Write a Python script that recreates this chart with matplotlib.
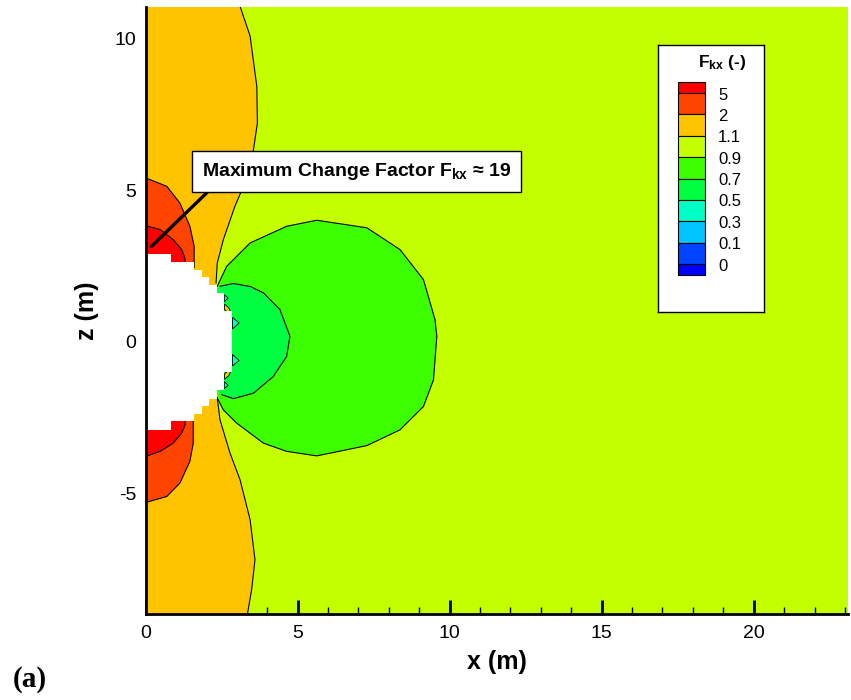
import matplotlib
matplotlib.use("Agg")
import matplotlib.pyplot as plt
from matplotlib.patches import Polygon, Rectangle
from matplotlib.ticker import MultipleLocator

plt.rcParams['font.family'] = ['Liberation Sans', 'DejaVu Sans']
plt.rcParams['mathtext.fontset'] = 'custom'
plt.rcParams['mathtext.rm'] = 'Liberation Sans'
plt.rcParams['mathtext.bf'] = 'Liberation Sans:bold'
plt.rcParams['mathtext.it'] = 'Liberation Sans:italic'
plt.rcParams['axes.unicode_minus'] = False

# domain (m)
x_range = [0.0, 23.1]
z_range = [-9.0, 11.05]

# contour levels and fill colours (legend, top to bottom)
level_labels = ['5', '2', '1.1', '0.9', '0.7', '0.5', '0.3', '0.1', '0']
level_colors = ['#FF0000', '#FF4400', '#FFC400', '#C4FF00', '#3CFF00',
                '#00FF40', '#00FFC4', '#00C4FF', '#0044FF', '#0000FF']

# contour F = 1.1 (orange / yellow-green)
c11_up_x = [3.11, 3.44, 3.66, 3.68, 3.55, 3.22, 2.94, 2.56, 2.36, 2.32]
c11_up_z = [11.07, 10.09, 8.43, 7.22, 6.34, 5.13, 4.47, 3.37, 2.60, 1.94]
c11_lo_x = [2.36, 2.45, 2.78, 3.11, 3.44, 3.60, 3.49, 3.35]
c11_lo_z = [-1.86, -2.58, -3.68, -4.56, -5.88, -7.20, -8.19, -9.00]

# contour F = 2
c2_up_x = [0.0, 0.70, 1.13, 1.46, 1.60, 1.60]
c2_up_z = [5.41, 5.13, 4.58, 3.81, 3.15, 2.45]
c2_lo_x = [1.57, 1.57, 1.46, 1.13, 0.70, 0.0]
c2_lo_z = [-2.45, -3.35, -3.95, -4.67, -5.11, -5.31]

# contour F = 5
c5_up_x = [0.0, 0.48, 0.91, 1.19, 1.30, 1.30]
c5_up_z = [3.83, 3.70, 3.37, 3.04, 2.75, 2.55]
c5_lo_x = [1.30, 1.30, 1.19, 0.91, 0.48, 0.0]
c5_lo_z = [-2.55, -2.75, -3.02, -3.35, -3.62, -3.79]

# contour F = 0.9 (outer green zone)
c09_x = [2.36, 2.67, 3.44, 4.64, 5.63, 7.28, 8.37, 9.14, 9.52, 9.58,
         9.47, 9.14, 8.37, 7.28, 5.63, 4.64, 3.88, 3.00, 2.56, 2.36]
c09_z = [1.83, 2.49, 3.26, 3.81, 4.01, 3.76, 3.04, 2.05, 0.73, 0.18,
         -1.26, -2.14, -2.91, -3.43, -3.77, -3.62, -3.35, -2.69, -2.25, -1.86]

# contour F = 0.7 (inner green zone)
c07_x = [2.45, 2.89, 3.45, 3.88, 4.42, 4.75, 4.64, 4.20, 3.55, 2.89, 2.51]
c07_z = [1.83, 1.92, 1.82, 1.61, 1.06, 0.18, -0.49, -1.15, -1.70, -1.88, -1.75]

# small F < 0.5 pockets at the excavation wall
pocket_x = [[2.86, 3.08, 2.86], [2.86, 3.08, 2.86],
            [2.59, 2.72, 2.59], [2.59, 2.72, 2.59]]
pocket_z = [[0.80, 0.62, 0.42], [-0.42, -0.62, -0.80],
            [1.55, 1.44, 1.32], [-1.32, -1.44, -1.55]]

# small F > 1.1 spots at the wall
spot_x = [[2.60, 2.74, 2.84, 2.70, 2.60], [2.60, 2.74, 2.84, 2.70, 2.60]]
spot_z = [[1.24, 1.12, 0.88, 0.98, 1.06], [-1.24, -1.12, -0.88, -0.98, -1.06]]

# excavation (no data)
hole_x = [0.0, 0.84, 0.84, 1.61, 1.61, 1.85, 1.85, 2.09, 2.09, 2.34, 2.34,
          2.59, 2.59, 2.86, 2.86, 2.59, 2.59, 2.34, 2.34, 2.09, 2.09, 1.85,
          1.85, 1.61, 1.61, 0.84, 0.84, 0.0]
hole_z = [2.90, 2.90, 2.63, 2.63, 2.38, 2.38, 2.12, 2.12, 1.88, 1.88, 1.61,
          1.61, 1.00, 1.00, -1.00, -1.00, -1.61, -1.61, -1.88, -1.88, -2.12,
          -2.12, -2.38, -2.38, -2.63, -2.63, -2.90, -2.90]

max_factor = 19
pointer_xy = (0.20, 3.15)

# point well inside the excavation used to close the fill polygons
inner = (1.0, 0.0)


def fill_region(ax, xs, zs, color, z=2):
    ax.add_patch(Polygon(list(zip(xs, zs)), closed=True, facecolor=color,
                         edgecolor='none', zorder=z))


def line(ax, xs, zs):
    ax.plot(xs, zs, color='black', lw=0.8, zorder=5)


fig = plt.figure(figsize=(8.51, 7.0), dpi=100)
ax = fig.add_axes([145.5 / 851, 1 - 614.3 / 700, 702.5 / 851, 607.3 / 700])
ax.set_facecolor(level_colors[3])

# orange zone 1.1 - 2
ox = [x_range[0]] + c11_up_x + [inner[0]] + c11_lo_x + [x_range[0]]
oz = [c11_up_z[0]] + c11_up_z + [inner[1]] + c11_lo_z + [c11_lo_z[-1]]
fill_region(ax, ox, oz, level_colors[2])

# 2 - 5 zones
fill_region(ax, c2_up_x + [0.0], c2_up_z + [c2_up_z[-1]], level_colors[1], 3)
fill_region(ax, [0.0] + c2_lo_x, [c2_lo_z[0]] + c2_lo_z, level_colors[1], 3)
# > 5 zones
fill_region(ax, c5_up_x + [0.0], c5_up_z + [c5_up_z[-1]], level_colors[0], 3)
fill_region(ax, [0.0] + c5_lo_x, [c5_lo_z[0]] + c5_lo_z, level_colors[0], 3)

# green zones
fill_region(ax, c09_x + [inner[0]], c09_z + [inner[1]], level_colors[4], 3)
fill_region(ax, c07_x + [inner[0]], c07_z + [inner[1]], level_colors[5], 3)

for px, pz in zip(pocket_x, pocket_z):
    ax.add_patch(Polygon(list(zip(px, pz)), closed=True,
                         facecolor=level_colors[6], edgecolor='black',
                         lw=0.6, zorder=4))
for sx, sz in zip(spot_x, spot_z):
    ax.add_patch(Polygon(list(zip(sx, sz)), closed=True,
                         facecolor=level_colors[2], edgecolor='black',
                         lw=0.6, zorder=4))

for xs, zs in [(c11_up_x, c11_up_z), (c11_lo_x, c11_lo_z),
               (c2_up_x, c2_up_z), (c2_lo_x, c2_lo_z),
               (c5_up_x, c5_up_z), (c5_lo_x, c5_lo_z),
               (c09_x, c09_z), (c07_x, c07_z)]:
    line(ax, xs, zs)

# excavation on top
ax.add_patch(Polygon(list(zip(hole_x, hole_z)), closed=True,
                     facecolor='white', edgecolor='none', zorder=6))

# annotation
ax.annotate('Maximum Change Factor F$_{\\mathbf{kx}}$ \u2248 %d' % max_factor,
            xy=pointer_xy, xytext=(1.85, 5.47), textcoords='data',
            ha='left', va='baseline', fontsize=14, fontweight='bold',
            bbox=dict(boxstyle='square,pad=0.5', fc='white', ec='black',
                      lw=1),
            arrowprops=dict(arrowstyle='-', lw=2.4, color='black',
                            relpos=(0.052, 0.0), shrinkA=0, shrinkB=0),
            zorder=8)

ax.set_xlim(x_range)
ax.set_ylim(z_range)
ax.spines['top'].set_visible(False)
ax.spines['right'].set_visible(False)
ax.spines['left'].set_linewidth(2)
ax.spines['bottom'].set_linewidth(2)
for sp in ax.spines.values():
    sp.set_zorder(10)
ax.xaxis.set_major_locator(MultipleLocator(5))
ax.yaxis.set_major_locator(MultipleLocator(5))
ax.xaxis.set_minor_locator(MultipleLocator(1))
ax.yaxis.set_minor_locator(MultipleLocator(1))
ax.tick_params(which='major', direction='in', length=10, width=2,
               labelsize=14)
ax.tick_params(which='minor', direction='in', length=5, width=1)
ax.tick_params(axis='x', which='major', pad=8)
ax.tick_params(axis='y', which='major', pad=6.5)

ax.set_xlabel('x (m)', fontsize=18, fontweight='bold')
ax.set_ylabel('z (m)', fontsize=18, fontweight='bold')
ax.xaxis.set_label_coords(0.5, -0.058)
ax.yaxis.set_label_coords(-0.066, 0.5)

# legend
lg = fig.add_axes([658 / 851, 1 - 312 / 700, 106 / 851, 267 / 700])
lg.set_xlim(0, 106)
lg.set_ylim(267, 0)
lg.set_xticks([])
lg.set_yticks([])
for sp in lg.spines.values():
    sp.set_linewidth(1)
lg.set_zorder(20)
lg.text(63.7, 17, 'F$_{\\mathbf{kx}}$ (-)', ha='center', va='center',
        fontsize=12.5, fontweight='bold')
band = 21.4
top = 37.3
y = top
for i, col in enumerate(level_colors):
    h = band / 2 if i in (0, len(level_colors) - 1) else band
    lg.add_patch(Rectangle((20.3, y), 26.7, h, facecolor=col,
                           edgecolor='black', lw=0.8))
    y += h
    if i < len(level_labels):
        lg.text(60, y + 2, level_labels[i], ha='left', va='center',
                fontsize=12)

fig.text(12.5 / 851, 13 / 700, '(a)', family='Liberation Serif',
         fontweight='bold', fontsize=21, ha='left', va='baseline')

fig.savefig('out.png', dpi=100)
